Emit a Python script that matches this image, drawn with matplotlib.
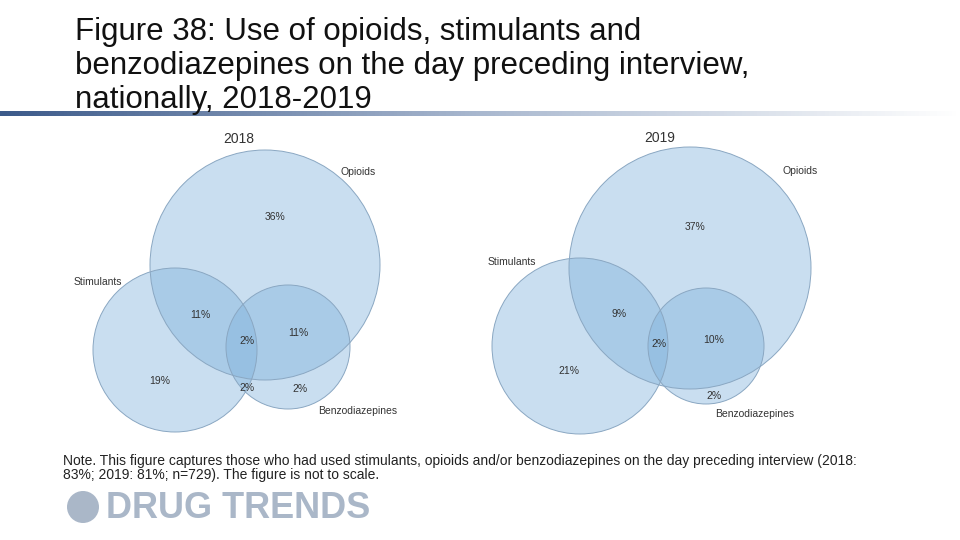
import matplotlib.pyplot as plt
from matplotlib.patches import Circle
from matplotlib.colors import LinearSegmentedColormap
import numpy as np

plt.rcParams['font.family'] = ['Liberation Sans', 'DejaVu Sans']

# Venn layout per year: (cx, cy, r) for opioids, stimulants, benzodiazepines (pixel space)
years = ["2018", "2019"]
opioids = [(265, 265, 115), (690, 268, 121)]
stimulants = [(175, 350, 82), (580, 346, 88)]
benzos = [(288, 347, 62), (706, 346, 58)]
pct_labels = [
    [("36%", 275, 217), ("11%", 200, 315), ("2%", 247, 341), ("11%", 298, 333),
     ("19%", 160, 381), ("2%", 247, 388), ("2%", 300, 389)],
    [("37%", 695, 227), ("9%", 619, 314), ("2%", 659, 344), ("10%", 714, 340),
     ("21%", 569, 371), ("2%", 714, 396)],
]
name_labels = [
    [("2018", 239, 139, 10), ("Opioids", 358, 172, 7.5), ("Stimulants", 98, 282, 7.5),
     ("Benzodiazepines", 358, 411, 7.5)],
    [("2019", 660, 138, 10), ("Opioids", 800, 171, 7.5), ("Stimulants", 512, 262, 7.5),
     ("Benzodiazepines", 755, 414, 7.5)],
]

fig = plt.figure(figsize=(9.6, 5.4), dpi=100)
ax = fig.add_axes([0, 0, 1, 1])
ax.set_xlim(0, 960)
ax.set_ylim(540, 0)
ax.axis("off")

# header bar with fade
grad = np.linspace(0, 1, 256).reshape(1, -1)
cm = LinearSegmentedColormap.from_list("hdr", ["#3c5a8a", "#a9b8cf", "#ffffff"])
ax.imshow(grad, cmap=cm, extent=(0, 960, 116, 111), aspect="auto", zorder=1)

ax.text(75, 66, "Figure 38: Use of opioids, stimulants and\nbenzodiazepines on the day preceding interview,\nnationally, 2018-2019",
        fontsize=22.5, va="center", ha="left", linespacing=1.16, color="#111111", zorder=2)

for i in range(2):
    for c in (opioids[i], stimulants[i], benzos[i]):
        ax.add_patch(Circle((c[0], c[1]), c[2], facecolor="#7fb2dc", alpha=0.42,
                            edgecolor="none", zorder=3))
        ax.add_patch(Circle((c[0], c[1]), c[2], facecolor="none",
                            edgecolor="#8aa7c2", lw=0.7, zorder=4))
    for t, x, y in pct_labels[i]:
        ax.text(x, y, t, fontsize=7.5, ha="center", va="center", color="#333333", zorder=5)
    for t, x, y, fs in name_labels[i]:
        ax.text(x, y, t, fontsize=fs, ha="center", va="center", color="#333333", zorder=5)

ax.text(63, 468, "Note. This figure captures those who had used stimulants, opioids and/or benzodiazepines on the day preceding interview (2018:\n83%; 2019: 81%; n=729). The figure is not to scale.",
        fontsize=10, ha="left", va="center", color="#222222", linespacing=1.05)

ax.add_patch(Circle((83, 507), 16, facecolor="#aab7c8", edgecolor="none"))
ax.text(106, 508, "DRUG TRENDS", fontsize=26, fontweight="bold", color="#aab7c8",
        ha="left", va="center")

fig.savefig("out.png", dpi=100)
